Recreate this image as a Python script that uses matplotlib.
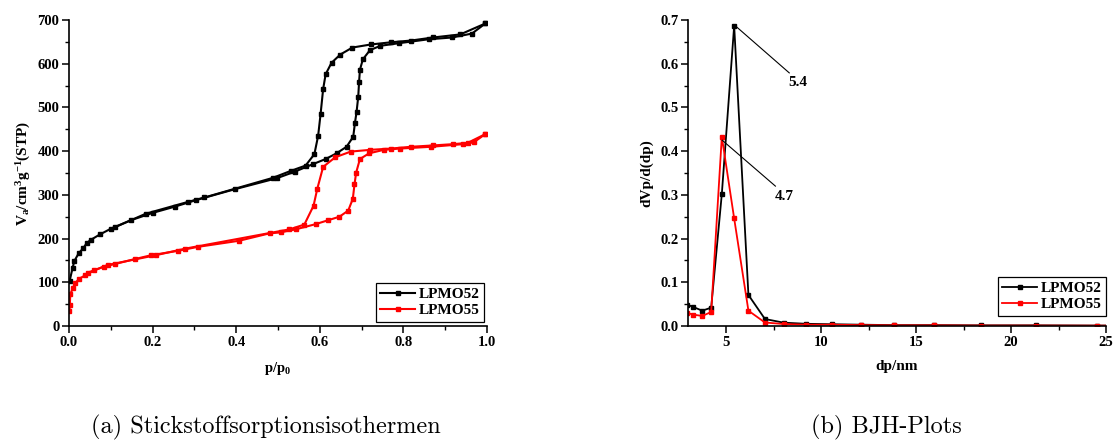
import numpy as np
import matplotlib
matplotlib.use("Agg")
import matplotlib.pyplot as plt
from matplotlib.ticker import MultipleLocator

# isotherms (p/p0, V_a)
p52_ads = [0.0015, 0.0086, 0.013, 0.023, 0.034, 0.042, 0.052, 0.075, 0.101, 0.148, 0.201, 0.253, 0.304,
           0.397, 0.497, 0.540, 0.583, 0.614, 0.640, 0.664, 0.680, 0.684, 0.688, 0.692, 0.694, 0.696,
           0.703, 0.720, 0.745, 0.790, 0.861, 0.917, 0.964, 0.996]
v52_ads = [103, 133, 149, 166, 178, 189, 197, 210, 223, 242, 259, 273, 288,
           313, 338, 353, 370, 382, 395, 410, 433, 464, 490, 525, 559, 586,
           610, 631, 641, 647, 656, 660, 669, 692]
p52_des = [0.996, 0.936, 0.871, 0.818, 0.770, 0.722, 0.678, 0.649, 0.628, 0.614, 0.608, 0.602, 0.596,
           0.587, 0.566, 0.531, 0.488, 0.324, 0.285, 0.184, 0.110]
v52_des = [692, 667, 660, 653, 649, 644, 637, 621, 602, 576, 542, 486, 435,
           393, 367, 355, 339, 294, 284, 257, 226]

p55_ads = [0.001, 0.002, 0.003, 0.009, 0.015, 0.024, 0.039, 0.060, 0.084, 0.111, 0.157, 0.197, 0.261,
           0.308, 0.407, 0.480, 0.506, 0.542, 0.590, 0.620, 0.647, 0.668, 0.679, 0.683, 0.687, 0.696,
           0.718, 0.753, 0.793, 0.867, 0.943, 0.968, 0.996]
v55_ads = [35, 48, 73, 86, 98, 108, 116, 127, 136, 142, 153, 162, 172,
           181, 195, 212, 214, 221, 233, 242, 250, 264, 291, 324, 351, 382,
           395, 403, 406, 410, 416, 420, 439]
p55_des = [0.996, 0.954, 0.919, 0.870, 0.818, 0.771, 0.721, 0.674, 0.637, 0.608, 0.594, 0.585, 0.563,
           0.527, 0.278, 0.208, 0.094, 0.045]
v55_des = [439, 419, 416, 413, 410, 406, 403, 399, 386, 364, 314, 275, 232,
           221, 177, 162, 140, 122]

# BJH pore size distribution
dp = [2.95, 3.28, 3.75, 4.22, 4.78, 5.43, 6.18, 7.05, 8.04, 9.22, 10.56, 12.1, 13.86, 15.93, 18.4, 21.3, 24.5, 28.0]
dv52 = [0.049, 0.0435, 0.035, 0.042, 0.302, 0.687, 0.071, 0.016, 0.0076, 0.005, 0.004, 0.003, 0.002,
        0.002, 0.0015, 0.0015, 0.001, 0.001]
dv55 = [0.030, 0.026, 0.023, 0.032, 0.433, 0.246, 0.035, 0.008, 0.0045, 0.003, 0.003, 0.002, 0.0015,
        0.0015, 0.001, 0.001, 0.0008, 0.0008]

labels = ["LPMO52", "LPMO55"]
colors = ["black", "red"]

plt.rcParams["font.family"] = "Liberation Serif"
plt.rcParams["font.weight"] = "bold"
plt.rcParams["mathtext.fontset"] = "custom"
plt.rcParams["mathtext.rm"] = "Liberation Serif:bold"
plt.rcParams["mathtext.bf"] = "Liberation Serif:bold"
plt.rcParams["mathtext.it"] = "Liberation Serif:bold"

W, H = 1118, 442
fig = plt.figure(figsize=(W / 100, H / 100), dpi=100)
ax1 = fig.add_axes([69 / W, 1 - 326 / H, 418 / W, 306 / H])
ax2 = fig.add_axes([688 / W, 1 - 326 / H, 418 / W, 306 / H])


def style(ax):
    for s in ["top", "right"]:
        ax.spines[s].set_visible(False)
    for s in ["left", "bottom"]:
        ax.spines[s].set_linewidth(1.2)
    ax.tick_params(which="major", direction="out", length=5, width=1.1, labelsize=10.5, pad=2)
    ax.tick_params(which="minor", direction="out", length=3, width=1.0)
    for t in ax.get_xticklabels() + ax.get_yticklabels():
        t.set_fontweight("bold")


def legend(ax, anchor):
    lg = ax.legend(loc="lower right", bbox_to_anchor=anchor, borderaxespad=0, fancybox=False,
                   edgecolor="black", framealpha=1, prop={"weight": "bold", "size": 11},
                   handlelength=2.3, handletextpad=0.2, borderpad=0.3, labelspacing=0.15, numpoints=1)
    lg.get_frame().set_linewidth(0.9)


# (a) isotherms
kw = dict(lw=1.5, marker="s", ms=3.5)
ax1.plot(p52_ads, v52_ads, color=colors[0], label=labels[0], **kw)
ax1.plot(p52_des, v52_des, color=colors[0], **kw)
ax1.plot(p55_ads, v55_ads, color=colors[1], label=labels[1], **kw)
ax1.plot(p55_des, v55_des, color=colors[1], **kw)
ax1.set_xlim(0, 1.0)
ax1.set_ylim(0, 700)
ax1.xaxis.set_major_locator(MultipleLocator(0.2))
ax1.xaxis.set_minor_locator(MultipleLocator(0.1))
ax1.yaxis.set_major_locator(MultipleLocator(100))
ax1.yaxis.set_minor_locator(MultipleLocator(50))
style(ax1)
ax1.set_xticklabels([f"{v:.1f}" for v in ax1.get_xticks()])
ax1.set_xlabel(r"$\mathbf{p/p_0}$", fontsize=10.5, labelpad=8)
ax1.set_ylabel(r"$\mathbf{V_a/cm^3g^{-1}(STP)}$", fontsize=11, labelpad=3)
legend(ax1, (1 - 3 / 418, 4 / 306))

# (b) BJH
kw2 = dict(lw=1.3, marker="s", ms=3.5)
ax2.plot(dp, dv52, color=colors[0], label=labels[0], **kw2)
ax2.plot(dp, dv55, color=colors[1], label=labels[1], **kw2)
ax2.set_xlim(3, 25)
ax2.set_ylim(0, 0.7)
ax2.xaxis.set_major_locator(MultipleLocator(5))
ax2.xaxis.set_minor_locator(MultipleLocator(2.5))
ax2.yaxis.set_major_locator(MultipleLocator(0.1))
ax2.yaxis.set_minor_locator(MultipleLocator(0.05))
style(ax2)
ax2.set_yticklabels([f"{v:.1f}" for v in ax2.get_yticks()])
ax2.set_xlabel("dp/nm", fontsize=11, fontweight="bold", labelpad=8)
ax2.set_ylabel("dVp/d(dp)", fontsize=11, fontweight="bold", labelpad=5)
legend(ax2, (1.0, 10 / 306))

ax2.plot([5.43, 8.33], [0.689, 0.579], color="black", lw=0.8)
ax2.text(8.8, 0.558, "5.4", ha="center", va="center", fontsize=11, fontweight="bold")
ax2.plot([4.8, 7.6], [0.425, 0.32], color="black", lw=0.8)
ax2.text(8.05, 0.297, "4.7", ha="center", va="center", fontsize=11, fontweight="bold")

# captions
fig.text(266 / W, 1 - 427 / H, "(a) Stickstoffsorptionsisothermen", family="cmr10",
         fontweight="normal", fontsize=17.5, ha="center", va="center")
fig.text(886 / W, 1 - 427 / H, "(b) BJH-Plots", family="cmr10",
         fontweight="normal", fontsize=17.5, ha="center", va="center")

fig.savefig("out.png", dpi=100)
